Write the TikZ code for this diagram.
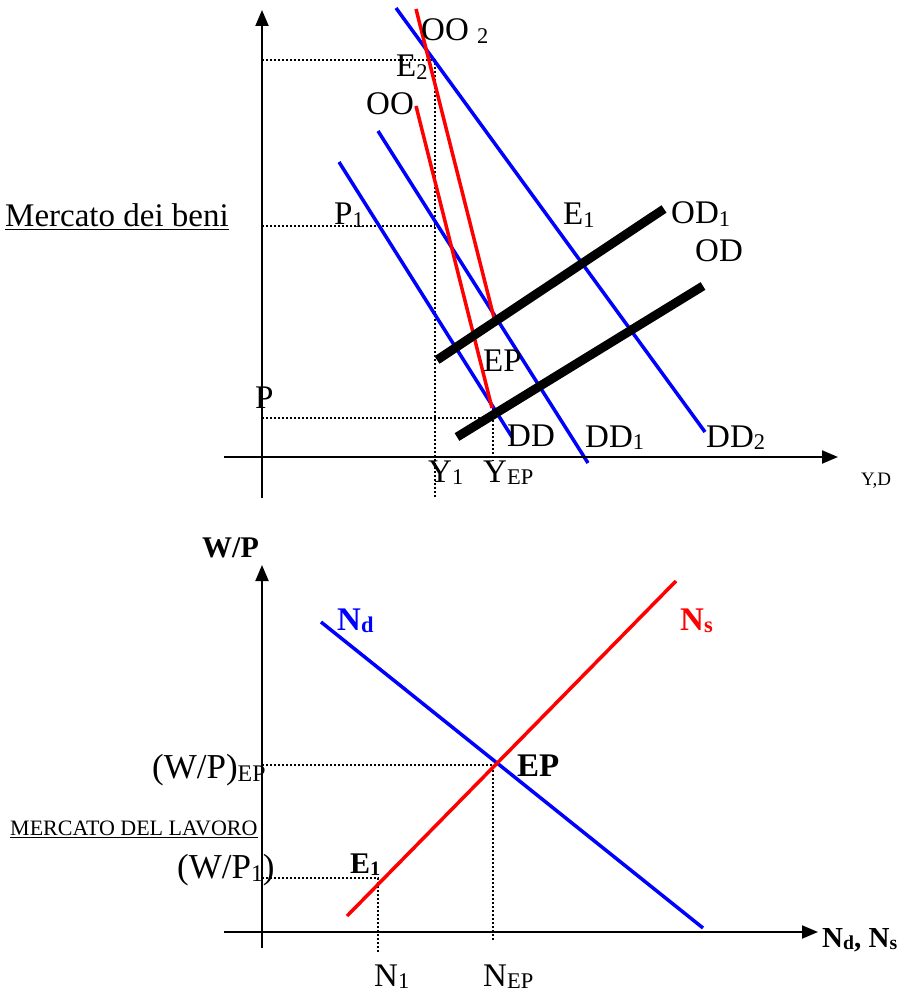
\documentclass[tikz,border=0pt]{standalone}
\usepackage{fontspec}
\usepackage{graphicx}
\setmainfont{Liberation Serif}
\usetikzlibrary{arrows.meta}
\newcommand\lsub[1]{\raisebox{-0.09em}{\scalebox{0.68}{#1}}}
\begin{document}
\begin{tikzpicture}[x=1pt,y=-1pt,
  axis/.style={line width=2pt,-{Triangle[length=16pt,width=13pt]}},
  bluel/.style={draw=blue,line width=3.5pt},
  redl/.style={draw=red,line width=3.5pt},
  offer/.style={draw=black,line width=9pt},
  dots/.style={line width=1.6pt,dash pattern=on 1.6pt off 2.4pt},
  lbl/.style={inner sep=0pt,anchor=base west,font=\fontsize{33}{36}\selectfont},
  blbl/.style={inner sep=0pt,anchor=base west,font=\fontsize{33}{36}\selectfont\bfseries},
  small/.style={inner sep=0pt,anchor=base west,font=\fontsize{19}{22}\selectfont},
  note/.style={inner sep=0pt,anchor=base west,font=\fontsize{22}{25}\selectfont},
]
\useasboundingbox (0,0) rectangle (906,992);

% ---------------- top chart: goods market ----------------
\coordinate (yB) at (262,498); \coordinate (yT) at (262,10);
\coordinate (xL) at (224,457); \coordinate (xR) at (838,457);

% dotted guides
\coordinate (e2y) at (262,60);  \coordinate (e2) at (435,60); \coordinate (y1b) at (435,498);
\coordinate (p1y) at (262,226); \coordinate (p1) at (435,226);
\coordinate (epy) at (262,418); \coordinate (ep) at (493,418);
\coordinate (epa) at (493,408); \coordinate (epb) at (493,461);
\draw[dots] (e2y) -- (e2) -- (y1b);
\draw[dots] (p1y) -- (p1);
\draw[dots] (epy) -- (ep);
\draw[dots] (epa) -- (epb);

% demand curves
\coordinate (dd0) at (339,162); \coordinate (dd1) at (512,437);
\coordinate (dda0) at (378,131); \coordinate (dda1) at (588,463);
\coordinate (ddb0) at (396,8);  \coordinate (ddb1) at (705,432);
\draw[bluel] (dd0) -- (dd1);
\draw[bluel] (dda0) -- (dda1);
\draw[bluel] (ddb0) -- (ddb1);

% OO curves
\coordinate (oo0) at (416,106); \coordinate (oo1) at (492,408);
\coordinate (oob0) at (416,9);  \coordinate (oob1) at (494,318);
\draw[redl] (oo0) -- (oo1);
\draw[redl] (oob0) -- (oob1);

% OD curves
\coordinate (od0) at (457,437); \coordinate (od1) at (703,286);
\coordinate (oda0) at (437,360); \coordinate (oda1) at (664,209);
\draw[offer] (od0) -- (od1);
\draw[offer] (oda0) -- (oda1);

% axes
\draw[axis] (yB) -- (yT);
\draw[axis] (xL) -- (xR);

% labels
\node[lbl] (lOO2) at (421,41) {OO \lsub{2}};
\node[lbl] (lE2) at (396,77) {E\lsub{2}};
\node[lbl] (lOO) at (366,115) {OO};
\node[lbl] (lP1) at (334,225) {P\lsub{1}};
\node[lbl] (lE1) at (563,225) {E\lsub{1}};
\node[lbl] (lOD1) at (671,224) {OD\lsub{1}};
\node[lbl] (lOD) at (695,261) {OD};
\node[lbl] (lEP) at (483,371) {EP};
\node[lbl] (lP) at (255,408) {P};
\node[lbl] (lDD) at (507,446) {DD};
\node[lbl] (lDD1) at (585,447) {DD\lsub{1}};
\node[lbl] (lDD2) at (706,447) {DD\lsub{2}};
\node[lbl] (lY1) at (428,482) {Y\lsub{1}};
\node[lbl] (lYEP) at (483,482) {Y\lsub{EP}};
\node[small] (lYD) at (861,485) {Y,D};
\node[lbl] (lMB) at (5,227) {\underline{Mercato dei beni}};

% ---------------- bottom chart: labour market ----------------
\coordinate (wB) at (262,948); \coordinate (wT) at (262,565);
\coordinate (nL) at (224,932); \coordinate (nR) at (818,932);

\coordinate (wepy) at (262,765); \coordinate (wep) at (493,765); \coordinate (nepb) at (493,940);
\coordinate (w1y) at (262,878); \coordinate (w1) at (378,878); \coordinate (n1b) at (378,952);
\draw[dots] (wepy) -- (wep) -- (nepb);
\draw[dots] (w1y) -- (w1) -- (n1b);

\coordinate (nd0) at (321,622); \coordinate (nd1) at (703,928);
\coordinate (ns0) at (347,916); \coordinate (ns1) at (676,581);
\draw[bluel] (nd0) -- (nd1);
\draw[redl] (ns0) -- (ns1);

\draw[axis] (wB) -- (wT);
\draw[axis] (nL) -- (nR);

\node[blbl,font=\fontsize{30}{34}\selectfont\bfseries] (lWP) at (202,557) {W/P};
\node[blbl,text=blue] (lNd) at (337,630) {N\lsub{d}};
\node[blbl,text=red] (lNs) at (680,630) {N\lsub{s}};
\node[blbl] (lEPb) at (517,776) {EP};
\node[blbl,font=\fontsize{30}{34}\selectfont\bfseries] (lE1b) at (350,873) {E\lsub{1}};
\node[lbl,font=\fontsize{35}{38}\selectfont] (lWPEP) at (152,778) {(W/P)\lsub{EP}};
\node[lbl,font=\fontsize{35}{38}\selectfont] (lWP1) at (177,878) {(W/P\lsub{1})};
\node[note] (lML) at (10,835) {\underline{MERCATO DEL LAVORO}};
\node[lbl] (lN1) at (374,986) {N\lsub{1}};
\node[lbl] (lNEP) at (483,986) {N\lsub{EP}};
\node[blbl,font=\fontsize{29}{32}\selectfont\bfseries] (lNdNs) at (822,947) {N\lsub{d}, N\lsub{s}};
\end{tikzpicture}
\end{document}
